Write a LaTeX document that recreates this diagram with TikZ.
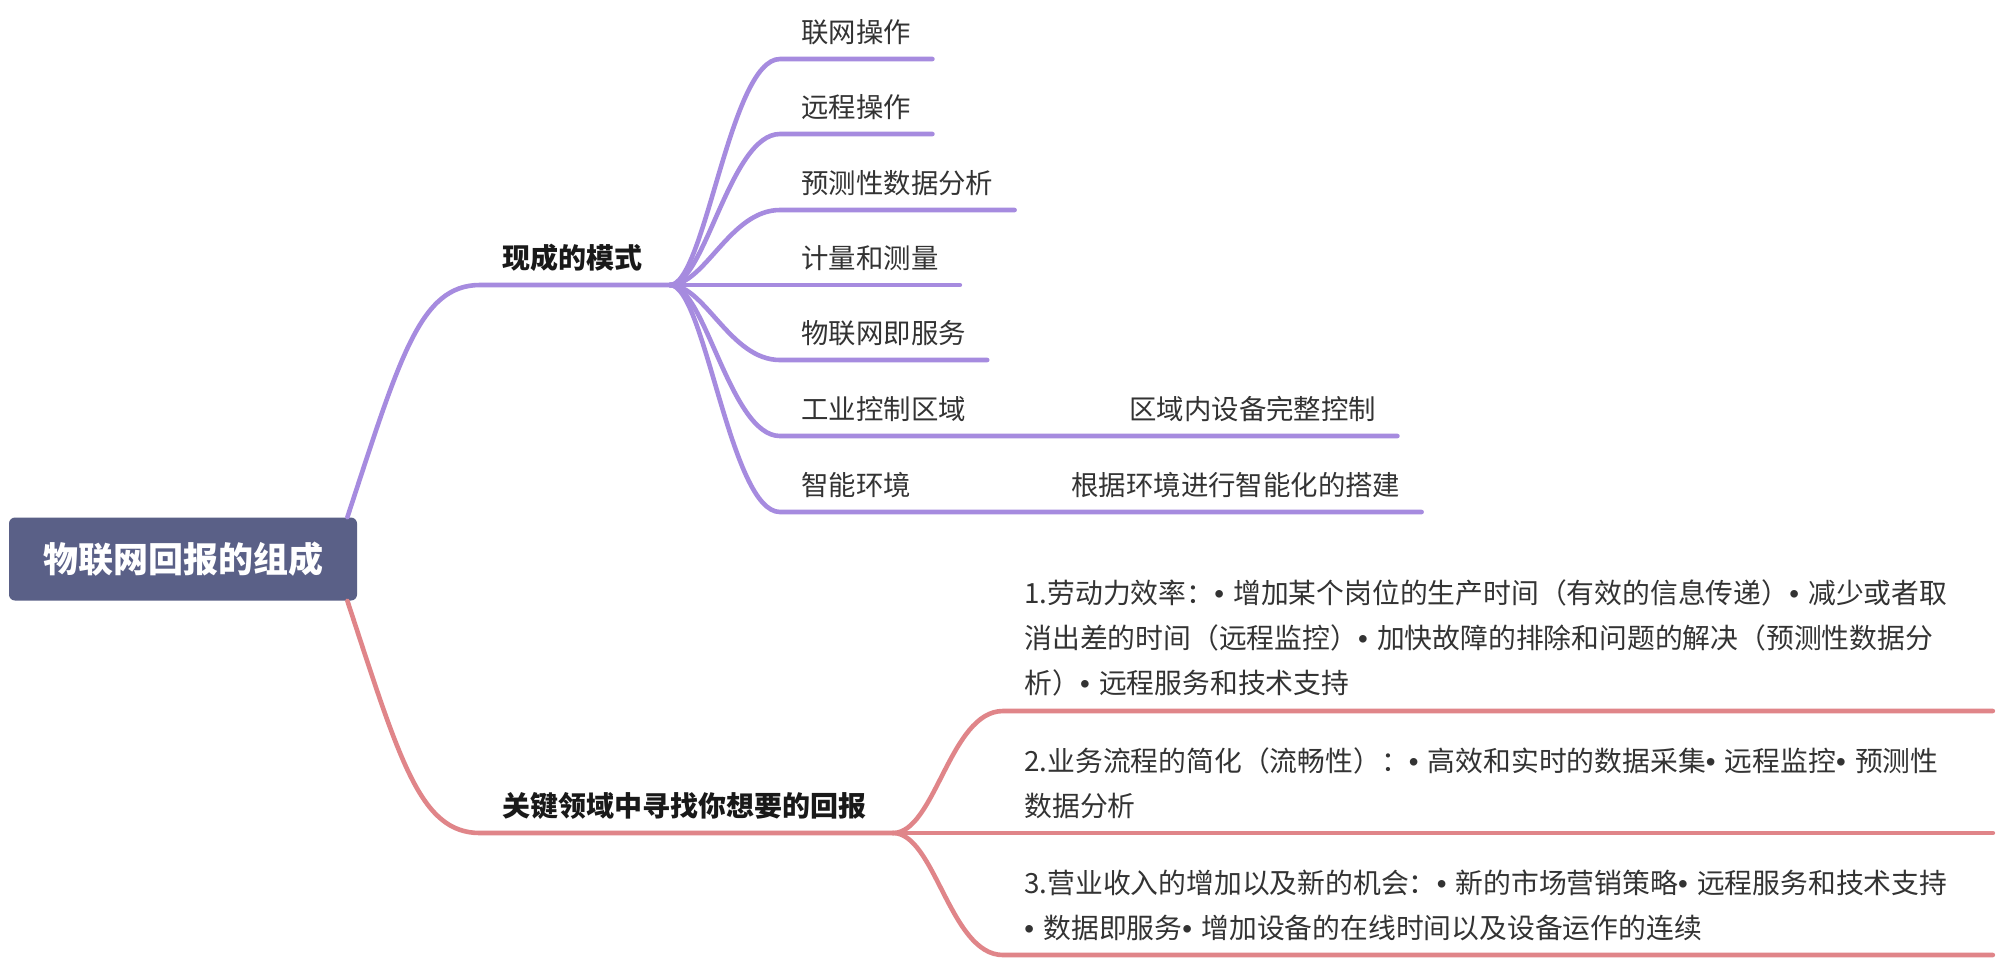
\documentclass[tikz,border=0pt]{standalone}
\usepackage{fontspec}
\setmainfont{Noto Sans CJK SC}
\newfontfamily\bulletfont{Liberation Sans}
\usetikzlibrary{positioning}
\definecolor{rootblue}{HTML}{5A6087}
\definecolor{lilac}{HTML}{A68BDF}
\definecolor{rose}{HTML}{E08589}
\definecolor{ink}{HTML}{333333}
\newcommand{\bulletdot}{{\bulletfont •}}

\begin{document}
\begin{tikzpicture}[x=0.5pt, y=-0.5pt, every node/.style={inner sep=0pt},
  root/.style={fill=rootblue, rounded corners=3pt, text=white, font=\fontsize{17.5}{21}\selectfont\bfseries, minimum width=174pt, minimum height=41.5pt},
  sec/.style={anchor=south west, inner xsep=11pt, inner ysep=6pt, text height=10pt, text depth=2pt, text=black!90, font=\fontsize{14}{17}\selectfont\bfseries},
  leaf/.style={anchor=south west, inner xsep=10.5pt, inner ysep=6pt, text height=10pt, text depth=2pt, text=ink, font=\fontsize{13.7}{16}\selectfont},
  note/.style={anchor=south west, inner xsep=10.5pt, inner ysep=7pt, text width=473.5pt, align=left, text=ink, font=\fontsize{13.9}{22.5}\selectfont},
  pline/.style={draw=lilac, line width=2.3pt, line cap=round},
  rline/.style={draw=rose, line width=2.3pt, line cap=round}]
\useasboundingbox[fill=white] (0,0) rectangle (2000,960);
\node[root] (root) at (183,559) {物联网回报的组成};
% first branch
\node[sec] (mode) at (480,285) {现成的模式};
\coordinate (modehub) at (670,285);
\node[leaf] (net) at (780,59) {联网操作};
\node[leaf] (remote) at (780,134) {远程操作};
\node[leaf] (pred) at (780,210) {预测性数据分析};
\node[leaf] (meter) at (780,285) {计量和测量};
\node[leaf] (iaas) at (780,360) {物联网即服务};
\node[leaf] (ind) at (780,436) {工业控制区域};
\node[leaf] (indsub) at (1108,436) {区域内设备完整控制};
\node[leaf] (smart) at (780,512) {智能环境};
\node[leaf] (smartsub) at (1050,512) {根据环境进行智能化的搭建};
\draw[pline] ([xshift=-5pt]root.north east) .. controls (400,357) and (420,285) .. (mode.south west) -- (modehub);
\draw[pline] (modehub) .. controls (705,285) and (730,59) .. (net.south west) -- (net.south east);
\draw[pline] (modehub) .. controls (705,285) and (730,134) .. (remote.south west) -- (remote.south east);
\draw[pline] (modehub) .. controls (705,285) and (730,210) .. (pred.south west) -- (pred.south east);
\draw[pline] (modehub) -- (meter.south west) -- (meter.south east);
\draw[pline] (modehub) .. controls (705,285) and (730,360) .. (iaas.south west) -- (iaas.south east);
\draw[pline] (modehub) .. controls (705,285) and (730,436) .. (ind.south west) -- (indsub.south east);
\draw[pline] (modehub) .. controls (705,285) and (730,512) .. (smart.south west) -- (smartsub.south east);
% second branch
\node[sec] (key) at (480,833) {关键领域中寻找你想要的回报};
\coordinate (keyhub) at (893,833);
\node[note] (eff) at (1003,711) {1.劳动力效率：\bulletdot{} 增加某个岗位的生产时间（有效的信息传递）\bulletdot{} 减少或者取\\消出差的时间（远程监控）\bulletdot{} 加快故障的排除和问题的解决（预测性数据分\\析）\bulletdot{} 远程服务和技术支持};
\node[note] (flow) at (1003,833) {2.业务流程的简化（流畅性）：\bulletdot{} 高效和实时的数据采集\bulletdot{} 远程监控\bulletdot{} 预测性\\数据分析};
\node[note] (rev) at (1003,955) {3.营业收入的增加以及新的机会：\bulletdot{} 新的市场营销策略\bulletdot{} 远程服务和技术支持\\\bulletdot{} 数据即服务\bulletdot{} 增加设备的在线时间以及设备运作的连续};
\draw[rline] ([xshift=-5pt]root.south east) .. controls (400,761) and (420,833) .. (key.south west) -- (keyhub);
\draw[rline] (keyhub) .. controls (935,833) and (950,711) .. (eff.south west) -- (eff.south east);
\draw[rline] (keyhub) -- (flow.south west) -- (flow.south east);
\draw[rline] (keyhub) .. controls (935,833) and (950,955) .. (rev.south west) -- (rev.south east);
\end{tikzpicture}
\end{document}
